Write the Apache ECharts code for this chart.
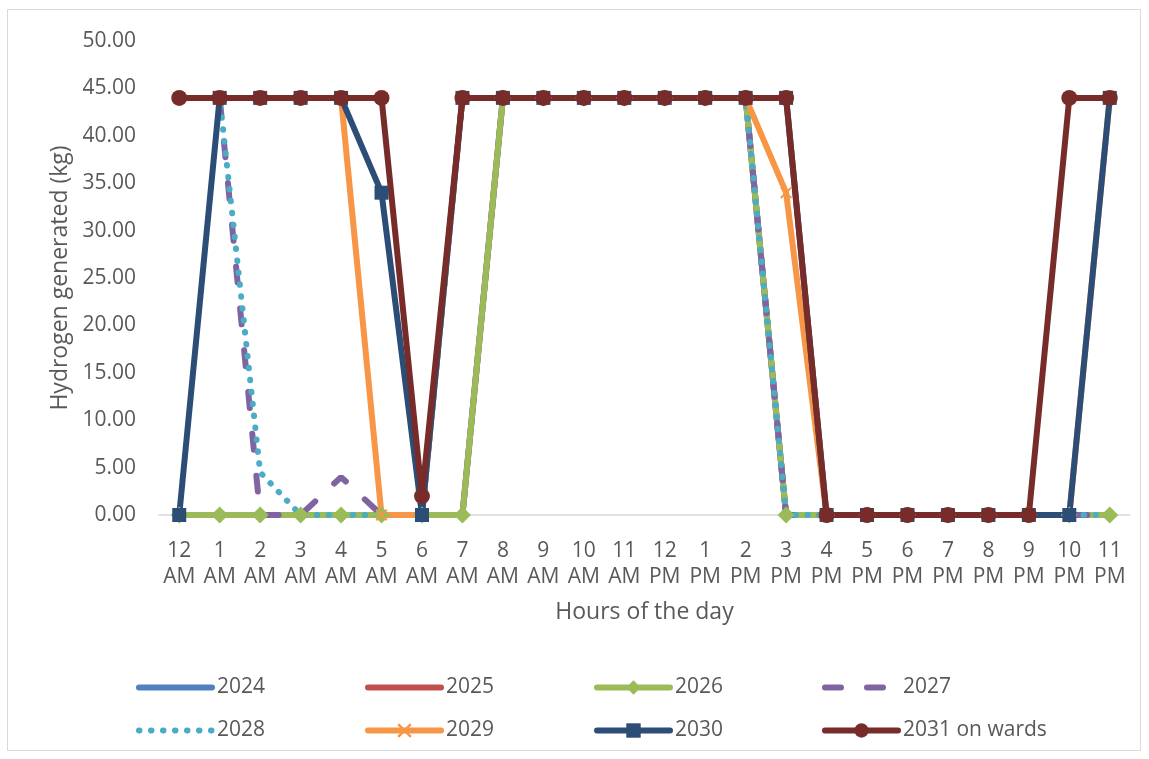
<!DOCTYPE html>
<html>
<head>
<meta charset="utf-8">
<title>Hydrogen generated by hour</title>
<script src="https://cdn.jsdelivr.net/npm/echarts@6/dist/echarts.min.js"></script>
<style>
  html, body { margin: 0; padding: 0; background: #ffffff; }
  #chart { width: 1149px; height: 759px; }
</style>
</head>
<body>
<div id="chart"></div>
<script>
// Hours of the day (category axis)
const hours = [
  '12\nAM', '1\nAM', '2\nAM', '3\nAM', '4\nAM', '5\nAM', '6\nAM', '7\nAM',
  '8\nAM', '9\nAM', '10\nAM', '11\nAM', '12\nPM', '1\nPM', '2\nPM', '3\nPM',
  '4\nPM', '5\nPM', '6\nPM', '7\nPM', '8\nPM', '9\nPM', '10\nPM', '11\nPM'
];

// Hydrogen generated (kg) per hour, by year
const y2024 = [0, 0, 0, 0, 0, 0, 0, 0, 44, 44, 44, 44, 44, 44, 44, 0, 0, 0, 0, 0, 0, 0, 0, 0];
const y2025 = [0, 0, 0, 0, 0, 0, 0, 0, 44, 44, 44, 44, 44, 44, 44, 0, 0, 0, 0, 0, 0, 0, 0, 0];
const y2026 = [0, 0, 0, 0, 0, 0, 0, 0, 44, 44, 44, 44, 44, 44, 44, 0, 0, 0, 0, 0, 0, 0, 0, 0];
const y2027 = [44, 44, 0, 0, 4, 0, 0, 44, 44, 44, 44, 44, 44, 44, 44, 0, 0, 0, 0, 0, 0, 0, 0, 0];
const y2028 = [44, 44, 4.5, 0, 0, 0, 0, 44, 44, 44, 44, 44, 44, 44, 44, 0, 0, 0, 0, 0, 0, 0, 0, 0];
const y2029 = [44, 44, 44, 44, 44, 0, 0, 44, 44, 44, 44, 44, 44, 44, 44, 34, 0, 0, 0, 0, 0, 0, 0, 44];
const y2030 = [0, 44, 44, 44, 44, 34, 0, 44, 44, 44, 44, 44, 44, 44, 44, 44, 0, 0, 0, 0, 0, 0, 0, 44];
const y2031 = [44, 44, 44, 44, 44, 44, 2, 44, 44, 44, 44, 44, 44, 44, 44, 44, 0, 0, 0, 0, 0, 0, 44, 44];

// Value axis ticks
const yMin = 0;
const yMax = 50;
const yStep = 5;

const FONT = "'Open Sans', 'DejaVu Sans', sans-serif";
const TEXT = '#595959';
const LW = 6;

// thin "x" cross marker
const crossPath = 'path://M0,1.2L1.2,0L5,3.8L8.8,0L10,1.2L6.2,5L10,8.8L8.8,10L5,6.2L1.2,10L0,8.8L3.8,5Z';

function lineSeries(name, data, color, extra) {
  return Object.assign({
    name: name,
    type: 'line',
    data: data,
    symbol: 'none',
    color: color,
    lineStyle: { width: LW, color: color, cap: 'round', join: 'round' },
    itemStyle: { color: color },
    emphasis: { disabled: true }
  }, extra || {});
}

const series = [
  lineSeries('2024', y2024, '#4F81BD'),
  lineSeries('2025', y2025, '#C0504D'),
  lineSeries('2026', y2026, '#9BBB59', { symbol: 'diamond', symbolSize: [17, 17] }),
  lineSeries('2027', y2027, '#8064A2', {
    lineStyle: { width: LW, color: '#8064A2', type: [16, 26], cap: 'round' }
  }),
  lineSeries('2028', y2028, '#4BACC6', {
    lineStyle: { width: LW, color: '#4BACC6', type: [0.5, 11.5], cap: 'round' }
  }),
  lineSeries('2029', y2029, '#F79646', { symbol: crossPath, symbolSize: 12 }),
  lineSeries('2030', y2030, '#2C4D75', { symbol: 'rect', symbolSize: 14 }),
  lineSeries('2031 on wards', y2031, '#772C2A', { symbol: 'circle', symbolSize: 16 })
];

// Legend: two rows of four, fixed column starts
const legendCols = [136, 365, 594, 822];
const legendRows = [677, 720];
const legendNames = ['2024', '2025', '2026', '2027', '2028', '2029', '2030', '2031 on wards'];
const legendMarkerless = ['2024', '2025', '2027', '2028'];

const legends = legendNames.map(function (name, i) {
  const item = { name: name };
  if (legendMarkerless.indexOf(name) > -1) item.itemStyle = { opacity: 0 };
  return {
    left: legendCols[i % 4],
    top: legendRows[Math.floor(i / 4)],
    itemWidth: 73,
    itemHeight: 18,
    padding: 0,
    selectedMode: false,
    lineStyle: { width: LW },
    textStyle: { fontFamily: FONT, fontSize: 21, color: TEXT },
    data: [item]
  };
});

const chart = echarts.init(document.getElementById('chart'), null, { renderer: 'canvas' });
chart.setOption({
  animation: false,
  backgroundColor: '#ffffff',
  graphic: [{
    type: 'rect',
    shape: { x: 7.5, y: 9.5, width: 1133, height: 741 },
    style: { fill: 'none', stroke: '#d9d9d9', lineWidth: 1 },
    silent: true,
    z: -10
  }],
  grid: { left: 159, right: 19, top: 41, bottom: 244 },
  legend: legends,
  xAxis: {
    type: 'category',
    data: hours,
    boundaryGap: true,
    name: 'Hours of the day',
    nameLocation: 'middle',
    nameGap: 86,
    nameTextStyle: { fontFamily: FONT, fontSize: 23, color: TEXT },
    axisLine: { show: true, lineStyle: { color: '#d9d9d9', width: 1.5 } },
    axisTick: { show: false },
    axisLabel: {
      interval: 0,
      margin: 23,
      fontFamily: FONT,
      fontSize: 21,
      lineHeight: 26,
      color: TEXT,
      align: 'center'
    },
    splitLine: { show: false }
  },
  yAxis: {
    type: 'value',
    min: yMin,
    max: yMax,
    interval: yStep,
    name: 'Hydrogen generated (kg)',
    nameLocation: 'middle',
    nameGap: 86,
    nameTextStyle: { fontFamily: FONT, fontSize: 23, color: TEXT },
    axisLine: { show: false },
    axisTick: { show: false },
    splitLine: { show: false },
    axisLabel: {
      margin: 23,
      fontFamily: FONT,
      fontSize: 21,
      color: TEXT,
      formatter: function (v) { return v.toFixed(2); }
    }
  },
  series: series
});
</script>
</body>
</html>
